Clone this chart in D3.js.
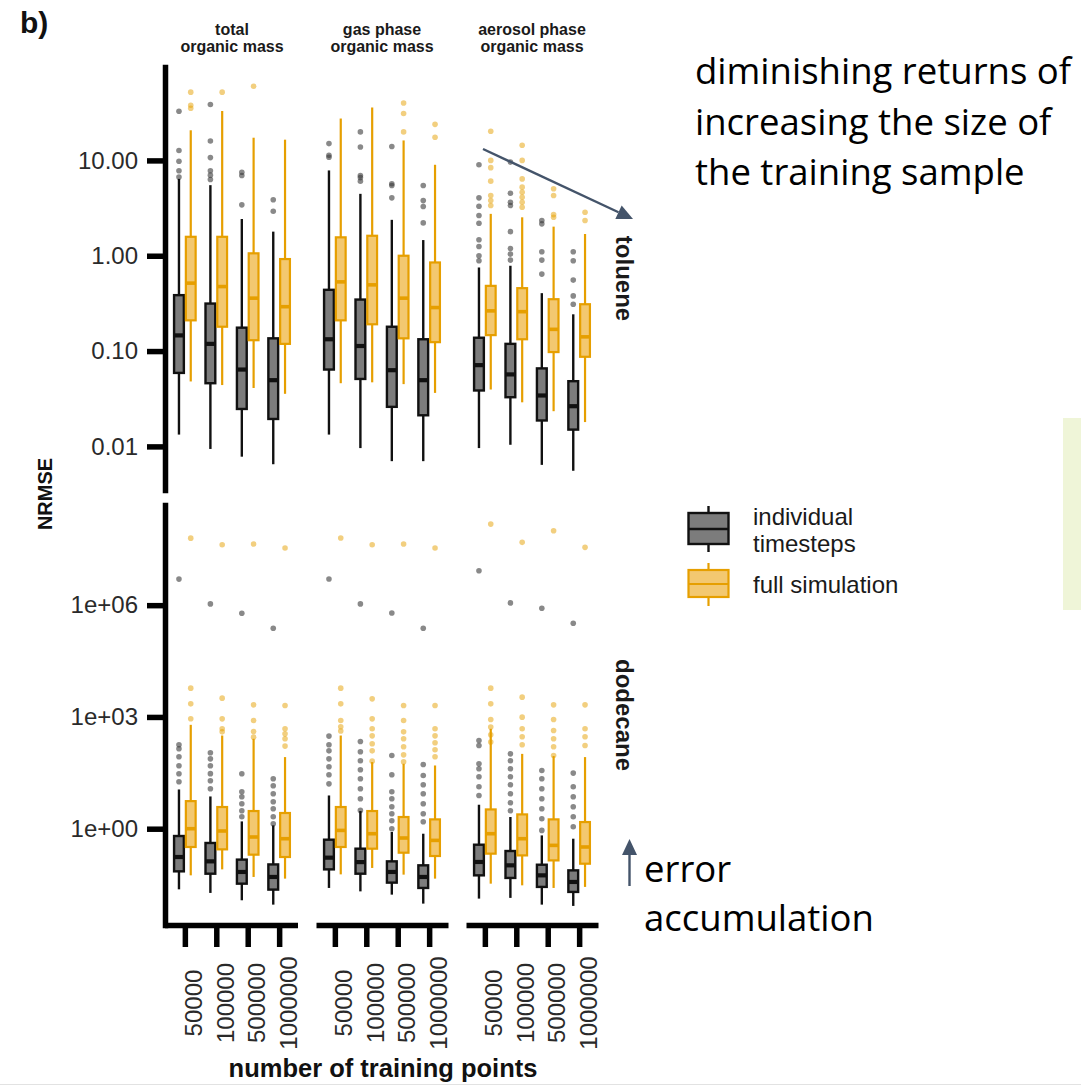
<!DOCTYPE html>
<html>
<head>
<meta charset="utf-8">
<script src="https://cdn.jsdelivr.net/npm/d3@7"></script>
<style>
  html, body { margin: 0; padding: 0; background: #fff; }
  svg { display: block; }
</style>
</head>
<body>
<svg id="chart" width="1081" height="1088"></svg>
<script>
// ---------------- data ----------------
const trainingSizes = ["50000", "100000", "500000", "1000000"];
const outputLabels = [["total", "organic mass"], ["gas phase", "organic mass"], ["aerosol phase", "organic mass"]];
const speciesNames = ["toluene", "dodecane"];
const methods = ["individual timesteps", "full simulation"];
const legendLabels = [["individual", "timesteps"], ["full simulation"]];

// Box summaries: [lower whisker, Q1, median, Q3, upper whisker]
// rows ordered output (total, gas, aerosol) x training size (50000 … 1000000)
const tolueneIndividualStats = [
  [0.0133, 0.059, 0.146, 0.386, 6.4],
  [0.0094, 0.046, 0.119, 0.315, 5.5],
  [0.0078, 0.0247, 0.064, 0.176, 2.43],
  [0.0065, 0.0194, 0.0495, 0.136, 1.79],
  [0.0133, 0.064, 0.133, 0.439, 7.85],
  [0.0096, 0.051, 0.113, 0.347, 4.46],
  [0.007, 0.026, 0.063, 0.18, 2.38],
  [0.007, 0.0212, 0.0495, 0.133, 1.46],
  [0.0096, 0.0386, 0.0712, 0.138, 0.753],
  [0.0104, 0.0328, 0.0569, 0.119, 0.785],
  [0.0064, 0.0187, 0.0342, 0.0658, 0.405],
  [0.00555, 0.015, 0.0264, 0.0483, 0.243]
];
const tolueneIndividualOutliers = [
  [32.8, 12.7, 9.8, 7.8, 6.7],
  [38.6, 16, 10.7, 7.8, 7, 6.3],
  [7.5, 6.95, 3.42],
  [3.86, 2.93],
  [15, 11.3, 10.8],
  [19.9, 13.8, 6.95, 6.6, 6.06],
  [14, 5.7, 5.45, 4.05],
  [5.45, 3.79, 3.28, 2.21],
  [9.0, 4.05, 3.3, 2.64, 2.19, 1.47, 1.25, 1.0, 0.886],
  [9.6, 4.53, 3.64, 3.36, 1.79, 1.19, 1.04, 0.9],
  [2.34, 2.16, 1.1, 0.9, 0.642],
  [1.1, 0.886, 0.555, 0.379, 0.31]
];
const tolueneFullStats = [
  [0.048, 0.21, 0.516, 1.58, 20.7],
  [0.044, 0.18, 0.475, 1.58, 33],
  [0.041, 0.13, 0.359, 1.06, 17.3],
  [0.0356, 0.119, 0.292, 0.923, 16.5],
  [0.046, 0.21, 0.532, 1.56, 27.5],
  [0.047, 0.191, 0.495, 1.62, 35.9],
  [0.045, 0.136, 0.359, 1.0, 16.2],
  [0.0364, 0.124, 0.286, 0.85, 9.0],
  [0.0395, 0.147, 0.264, 0.483, 2.75],
  [0.029, 0.133, 0.259, 0.457, 2.53],
  [0.0234, 0.0976, 0.169, 0.35, 2.02],
  [0.018, 0.0871, 0.141, 0.31, 1.69]
];
const tolueneFullOutliers = [
  [52, 37.9, 35.3],
  [52],
  [60],
  [],
  [],
  [],
  [40, 31, 19.9],
  [23.9, 17.5],
  [20.2, 10, 8.4, 6.06, 4.28, 3.79, 3.36],
  [14.4, 10, 6.4, 5.24, 4.64, 4.11, 3.64, 3.22],
  [5.04, 4.28, 2.7, 2.53],
  [2.86, 2.34]
];
const dodecaneIndividualStats = [
  [0.0236, 0.0717, 0.174, 0.637, 11.3],
  [0.0189, 0.062, 0.133, 0.414, 7.34],
  [0.012, 0.0335, 0.069, 0.148, 1.57],
  [0.00917, 0.0232, 0.0507, 0.11, 1.23],
  [0.0257, 0.081, 0.167, 0.507, 7.8],
  [0.0208, 0.062, 0.127, 0.291, 2.98],
  [0.017, 0.0357, 0.069, 0.133, 0.816],
  [0.00976, 0.0257, 0.0507, 0.104, 0.734],
  [0.0133, 0.056, 0.128, 0.372, 4.4],
  [0.0139, 0.0477, 0.104, 0.252, 2.06],
  [0.00917, 0.0274, 0.056, 0.108, 0.661],
  [0.00847, 0.0201, 0.0372, 0.0762, 0.539]
];
const dodecaneIndividualOutliers = [
  [5.0e6, 179, 140, 85, 49, 29.8, 18.2],
  [1.08e6, 109, 75, 49, 30, 19.4, 11.8],
  [6.07e5, 29.8, 9.8, 7.2, 4.68, 3.04, 2.1],
  [2.4e5, 21.9, 14.2, 8.68, 5.3, 3.44, 2.1, 1.36],
  [5.04e6, 306, 179, 123, 75, 46, 28, 16],
  [1.08e6, 219, 116, 66.5, 38.2, 21.9, 11.8, 6.37, 3.1],
  [6.18e5, 92, 28, 9.8, 6.37, 3.89, 2.52, 1.64, 1.0],
  [2.4e5, 53, 26.8, 15.1, 8.68, 4.68, 2.52, 1.54],
  [8.4e6, 233, 171, 55, 40.6, 24.8, 13.4, 7.8],
  [1.15e6, 102, 66.5, 40.6, 24.8, 15.1, 8.68, 4.98, 3.04],
  [8.26e5, 36.6, 21.9, 11.8, 6.37, 3.44, 1.85, 0.9],
  [3.27e5, 31.1, 13.4, 7.2, 3.89, 2.1, 1.13]
];
const dodecaneFullStats = [
  [0.056, 0.323, 1.0, 5.5, 614],
  [0.081, 0.279, 0.868, 3.82, 317],
  [0.0507, 0.201, 0.599, 2.98, 259],
  [0.0457, 0.174, 0.539, 2.64, 83.6],
  [0.0595, 0.323, 0.9, 3.82, 317],
  [0.0884, 0.291, 0.734, 2.98, 61.4],
  [0.0585, 0.227, 0.563, 2.06, 55.3],
  [0.0457, 0.185, 0.486, 1.78, 49.8],
  [0.0335, 0.214, 0.734, 3.29, 480],
  [0.0302, 0.192, 0.539, 2.42, 102],
  [0.0257, 0.141, 0.357, 1.78, 89],
  [0.0274, 0.115, 0.323, 1.51, 83.6]
];
const dodecaneFullOutliers = [
  [6.3e7, 5920, 2245, 890],
  [4.19e7, 3190, 889, 480, 398],
  [4.37e7, 2110, 800, 406, 287],
  [3.42e7, 2020, 480, 352, 259, 165],
  [6.34e7, 5920, 2245, 800, 543, 420],
  [4.19e7, 3056, 889, 480, 311, 190, 123, 65],
  [4.37e7, 2020, 800, 398, 259, 158, 96, 62.5],
  [3.42e7, 2020, 480, 311, 202, 131, 85],
  [1.5e8, 5920, 2245, 852, 533, 331, 211],
  [4.85e7, 3396, 988, 480, 293, 179],
  [9.9e7, 2110, 852, 432, 259, 158, 92],
  [3.56e7, 2110, 480, 293, 171]
];

const tolueneTicks = [0.01, 0.1, 1, 10];
const dodecaneTicks = [1, 1e3, 1e6];

// ---------------- layout & style ----------------
const svg = d3.select("#chart");
const FONT = "'Liberation Sans', Arial, Helvetica, sans-serif";
const NOTE_FONT = "'Open Sans', 'Noto Sans', sans-serif";
const GREY_FILL = "#7c7c7c", GREY_LINE = "#111111";
const GOLD_LINE = "#E69F00", GOLD_FILL = "#F3C870";
const NOTE_COLOR = "#44546A";
const AXIS_W = 5.5;

const rowTop = [67, 505], rowBottom = [490, 925];
const panelLeft = [166, 316, 466], panelWidth = 132;
const yAxisX = 165;

const rows = [
  { name: speciesNames[0], ticks: tolueneTicks, fmt: d3.format(".2f"),
    series: [
      { method: methods[0], stats: tolueneIndividualStats, out: tolueneIndividualOutliers },
      { method: methods[1], stats: tolueneFullStats, out: tolueneFullOutliers }
    ] },
  { name: speciesNames[1], ticks: dodecaneTicks,
    fmt: v => { const e = Math.round(Math.log10(v)); return "1e" + (e < 0 ? "-" : "+") + String(Math.abs(e)).padStart(2, "0"); },
    series: [
      { method: methods[0], stats: dodecaneIndividualStats, out: dodecaneIndividualOutliers },
      { method: methods[1], stats: dodecaneFullStats, out: dodecaneFullOutliers }
    ] }
];

const styleOf = m => m === methods[0]
  ? { fill: GREY_FILL, line: GREY_LINE, lw: 2.4, mw: 4.2, dot: "#3a3a3a", dotOp: 0.6 }
  : { fill: GOLD_FILL, line: GOLD_LINE, lw: 2.2, mw: 3.6, dot: GOLD_LINE, dotOp: 0.5 };

// per-panel x scales
const xScales = panelLeft.map(x0 => d3.scalePoint().domain(trainingSizes).range([x0, x0 + panelWidth]).padding(0.6));
const step = xScales[0].step();
const dodge = d3.scaleBand().domain(methods).range([-0.375 * step, 0.375 * step]);
const boxW = dodge.bandwidth() - 2;

rows.forEach((row, r) => {
  // log-scale y with 5% expansion of the data range (in log space)
  const all = [];
  row.series.forEach(s => { s.stats.forEach(d => all.push(...d)); s.out.forEach(d => all.push(...d)); });
  const [lo, hi] = d3.extent(all).map(Math.log10);
  const pad = (hi - lo) * 0.05;
  const y = d3.scaleLog().domain([Math.pow(10, lo - pad), Math.pow(10, hi + pad)]).range([rowBottom[r], rowTop[r]]);

  const g = svg.append("g");
  outputLabels.forEach((_, p) => {
    const x = xScales[p];
    trainingSizes.forEach((size, k) => {
      row.series.forEach(s => {
        const st = styleOf(s.method);
        const [wl, q1, md, q3, wh] = s.stats[p * 4 + k];
        const cx = x(size) + dodge(s.method) + dodge.bandwidth() / 2;
        const grp = g.append("g");
        grp.selectAll("circle").data(s.out[p * 4 + k]).join("circle")
          .attr("cx", cx).attr("cy", d => y(d)).attr("r", 2.8)
          .attr("fill", st.dot).attr("fill-opacity", st.dotOp);
        grp.append("line").attr("x1", cx).attr("x2", cx).attr("y1", y(wh)).attr("y2", y(q3))
          .attr("stroke", st.line).attr("stroke-width", st.lw);
        grp.append("line").attr("x1", cx).attr("x2", cx).attr("y1", y(q1)).attr("y2", y(wl))
          .attr("stroke", st.line).attr("stroke-width", st.lw);
        grp.append("rect").attr("x", cx - boxW / 2).attr("width", boxW)
          .attr("y", y(q3)).attr("height", y(q1) - y(q3))
          .attr("fill", st.fill).attr("stroke", st.line).attr("stroke-width", st.lw);
        grp.append("line").attr("x1", cx - boxW / 2).attr("x2", cx + boxW / 2)
          .attr("y1", y(md)).attr("y2", y(md))
          .attr("stroke", st.line).attr("stroke-width", st.mw);
      });
    });
  });

  // y axis (leftmost column only)
  const ya = svg.append("g").attr("transform", `translate(${yAxisX},0)`)
    .call(d3.axisLeft(y).tickValues(row.ticks).tickFormat(row.fmt).tickSize(18).tickPadding(9).tickSizeOuter(0));
  ya.select(".domain").attr("stroke", "#000").attr("stroke-width", AXIS_W).attr("stroke-linecap", "square");
  ya.selectAll(".tick line").attr("stroke", "#000").attr("stroke-width", AXIS_W);
  ya.selectAll(".tick text").attr("font-family", FONT).attr("font-size", 24).attr("fill", "#2a2a2a");

  // right-hand strip label
  svg.append("text")
    .attr("transform", `translate(624,${(rowTop[r] + rowBottom[r]) / 2}) rotate(90)`)
    .attr("text-anchor", "middle").attr("dominant-baseline", "central")
    .attr("font-family", FONT).attr("font-weight", "bold").attr("font-size", 24).attr("fill", "#1a1a1a")
    .text(row.name);
});

// x axes (bottom row only, one per column)
xScales.forEach((x, p) => {
  const xa = svg.append("g").attr("transform", `translate(0,${rowBottom[1]})`)
    .call(d3.axisBottom(x).tickSize(22).tickSizeOuter(0).tickFormat(() => ""));
  xa.select(".domain").attr("stroke", "#000").attr("stroke-width", AXIS_W);
  if (p === 0) xa.select(".domain").attr("d", `M${yAxisX},0.5H${x.range()[1]}`);
  xa.selectAll(".tick line").attr("stroke", "#000").attr("stroke-width", AXIS_W);
  // rotated category labels
  svg.append("g").selectAll("text").data(trainingSizes).join("text")
    .attr("transform", d => `translate(${x(d) + 9},1003) rotate(-90)`)
    .attr("text-anchor", "middle").attr("dominant-baseline", "central")
    .attr("font-family", FONT).attr("font-size", 24).attr("fill", "#2a2a2a")
    .text(d => d);
  // column strip labels
  const t = svg.append("text").attr("text-anchor", "middle")
    .attr("font-family", FONT).attr("font-weight", "bold").attr("font-size", 16).attr("fill", "#1a1a1a");
  outputLabels[p].forEach((line, i) =>
    t.append("tspan").attr("x", x.range()[0] + panelWidth / 2).attr("y", 35 + i * 17).text(line));
});

// axis titles
svg.append("text").attr("x", 383).attr("y", 1077).attr("text-anchor", "middle")
  .attr("font-family", FONT).attr("font-weight", "bold").attr("font-size", 25.5).attr("fill", "#111")
  .text("number of training points");
svg.append("text").attr("transform", "translate(45,494) rotate(-90)")
  .attr("text-anchor", "middle").attr("dominant-baseline", "central")
  .attr("font-family", FONT).attr("font-weight", "bold").attr("font-size", 20).attr("fill", "#111")
  .text("NRMSE");

// panel tag
svg.append("text").attr("x", 20).attr("y", 33)
  .attr("font-family", FONT).attr("font-weight", "bold").attr("font-size", 30).attr("fill", "#111")
  .text("b)");

// legend
const legendKeys = [
  { method: methods[0], top: 506, q3: 513, med: 529, q1: 544, bottom: 552 },
  { method: methods[1], top: 563, q3: 570, med: 584, q1: 597, bottom: 606 }
];
const lg = svg.append("g");
legendKeys.forEach((k, i) => {
  const st = styleOf(k.method);
  const cx = 708.5, w = 40;
  lg.append("line").attr("x1", cx).attr("x2", cx).attr("y1", k.top).attr("y2", k.bottom)
    .attr("stroke", st.line).attr("stroke-width", st.lw);
  lg.append("rect").attr("x", cx - w / 2).attr("y", k.q3).attr("width", w).attr("height", k.q1 - k.q3)
    .attr("fill", st.fill).attr("stroke", st.line).attr("stroke-width", st.lw);
  lg.append("line").attr("x1", cx - w / 2).attr("x2", cx + w / 2).attr("y1", k.med).attr("y2", k.med)
    .attr("stroke", st.line).attr("stroke-width", st.lw);
  const t = lg.append("text").attr("font-family", FONT).attr("font-size", 24).attr("fill", "#1a1a1a");
  legendLabels[i].forEach((line, j) =>
    t.append("tspan").attr("x", 753).attr("y", (i === 0 ? 525 : 593) + j * 27).text(line));
});

// annotations
function arrow(x1, y1, x2, y2) {
  const a = Math.atan2(y2 - y1, x2 - x1), L = 16, W = 7.5;
  const bx = x2 - L * Math.cos(a), by = y2 - L * Math.sin(a);
  svg.append("line").attr("x1", x1).attr("y1", y1).attr("x2", bx).attr("y2", by)
    .attr("stroke", NOTE_COLOR).attr("stroke-width", 2.4);
  svg.append("path")
    .attr("d", `M${x2},${y2}L${bx + W * Math.sin(a)},${by - W * Math.cos(a)}L${bx - W * Math.sin(a)},${by + W * Math.cos(a)}Z`)
    .attr("fill", NOTE_COLOR);
}
arrow(483, 149, 633, 219);
arrow(629.5, 886, 629.5, 839);

const note1 = ["diminishing returns of", "increasing the size of", "the training sample"];
const n1 = svg.append("text").attr("font-family", NOTE_FONT).attr("font-size", 36.5).attr("fill", "#000");
note1.forEach((line, i) => n1.append("tspan").attr("x", 695).attr("y", 84 + i * 50.7).text(line));
const note2 = ["error", "accumulation"];
const n2 = svg.append("text").attr("font-family", NOTE_FONT).attr("font-size", 36.5).attr("fill", "#000");
note2.forEach((line, i) => n2.append("tspan").attr("x", 644).attr("y", 882 + i * 49).text(line));

// side band and bottom rule
svg.append("rect").attr("x", 1063).attr("y", 418).attr("width", 18).attr("height", 192).attr("fill", "#EFF5D8");
svg.append("line").attr("x1", 0).attr("x2", 1081).attr("y1", 1084.5).attr("y2", 1084.5)
  .attr("stroke", "#e2e2e2").attr("stroke-width", 1);
</script>
</body>
</html>
